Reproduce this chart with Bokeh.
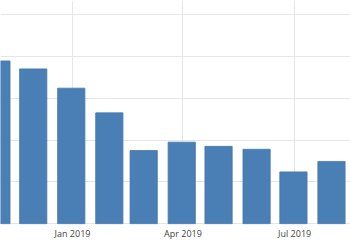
from datetime import datetime
from bokeh.plotting import figure
from bokeh.models import Range1d, FixedTicker, DatetimeTickFormatter, ColumnDataSource
from bokeh.embed import file_html
from bokeh.resources import INLINE

# data: monthly values (bars placed at month end)
months = ["2018-10-31", "2018-11-30", "2018-12-31", "2019-01-31", "2019-02-28",
          "2019-03-31", "2019-04-30", "2019-05-31", "2019-06-30", "2019-07-31"]
values = [3.89, 3.70, 3.24, 2.65, 1.75, 1.95, 1.85, 1.78, 1.24, 1.49]
tick_dates = ["2019-01-01", "2019-04-01", "2019-07-01"]
y_grid = [0, 1, 2, 3, 4, 5]

def ms(s):
    return datetime.strptime(s, "%Y-%m-%d").timestamp() * 1000.0

DAY = 86400000.0
x_vals = [datetime.strptime(m, "%Y-%m-%d") for m in months]
src = ColumnDataSource(dict(x=x_vals, top=values))

jan = ms("2019-01-01")
p = figure(width=350, height=250, x_axis_type="datetime",
           output_backend="svg", toolbar_location=None,
           x_range=Range1d(jan - 58.66 * DAY, jan + 226.5 * DAY),
           y_range=Range1d(-0.0167, 5.334),
           min_border_left=0, min_border_right=0, min_border_top=0,
           min_border_bottom=26)
p.outline_line_color = None
p.background_fill_color = "white"
p.border_fill_color = "white"

p.vbar(x="x", top="top", bottom=0, width=22.2 * DAY, source=src,
       fill_color="#4A7FB5", line_color="#4478AE", line_width=0.8)

p.yaxis.visible = False
p.ygrid.ticker = FixedTicker(ticks=y_grid)
p.ygrid.grid_line_color = "#e6e6e6"
p.ygrid.grid_line_width = 1

p.xaxis.ticker = FixedTicker(ticks=[ms(t) for t in tick_dates])
fmt = "%b %Y"
p.xaxis.formatter = DatetimeTickFormatter(months=fmt, days=fmt, years=fmt,
                                          hours=fmt, minutes=fmt, seconds=fmt,
                                          milliseconds=fmt, hourmin=fmt,
                                          minsec=fmt, microseconds=fmt)
p.xaxis.axis_line_color = None
p.xaxis.major_tick_line_color = None
p.xaxis.minor_tick_line_color = None
p.xaxis.major_tick_out = 0
p.xaxis.major_tick_in = 0
p.xaxis.minor_tick_out = 0
p.xaxis.major_label_standoff = 2
p.xaxis.major_label_text_font = "Open Sans"
p.xaxis.major_label_text_font_size = "9px"
p.xaxis.major_label_text_color = "#444444"
p.xgrid.grid_line_color = "#e6e6e6"
p.xgrid.grid_line_width = 1

open("out.html", "w").write(file_html(p, INLINE))
